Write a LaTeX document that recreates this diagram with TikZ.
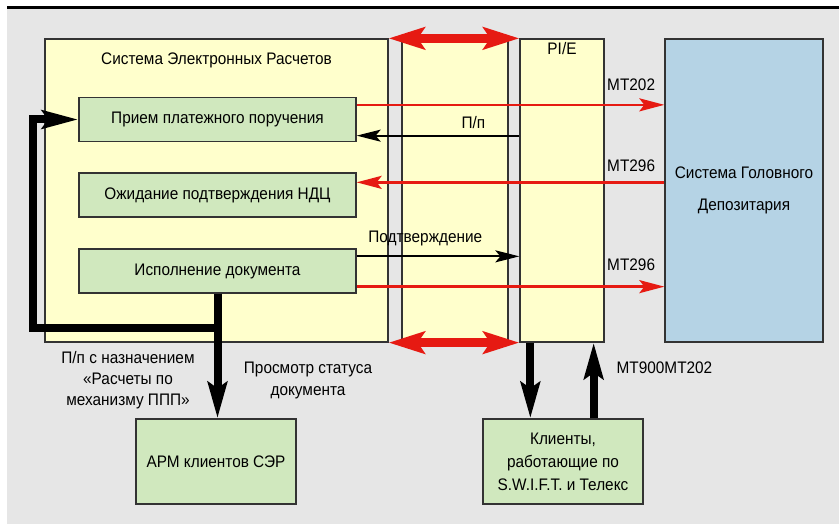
\documentclass[tikz,border=0pt]{standalone}
\usepackage{fontspec}
\setmainfont{Liberation Sans}[FakeStretch=0.92]
\usetikzlibrary{arrows.meta,positioning,calc}
\definecolor{bgGray}{RGB}{230,230,230}
\definecolor{colY}{RGB}{255,255,204}
\definecolor{colG}{RGB}{208,232,190}
\definecolor{colB}{RGB}{181,211,229}
\definecolor{colR}{RGB}{230,26,18}

\begin{document}
\begin{tikzpicture}[
  x=1pt,y=-1pt,
  every node/.style={font=\fontsize{16.7}{19}\selectfont,inner sep=0pt,text=black},
  bx/.style={draw=black!80,line width=1.3pt},
  col/.style={bx,fill=colY,minimum height=303pt},
  proc/.style={bx,fill=colG,minimum width=277pt,minimum height=44pt},
  client/.style={bx,fill=colG,minimum width=160pt,minimum height=85pt,align=center},
  msg/.style={colR,line width=2.6pt,-{Stealth[length=25pt,width=13pt,inset=5pt]}},
  ack/.style={black,line width=2.2pt,-{Stealth[length=24pt,width=12pt,inset=5pt]}},
  fb/.style={black,line width=8pt,-{Stealth[length=36pt,width=19pt,inset=6pt]}},
  link/.style={colR,line width=9pt,{Stealth[length=36pt,width=22pt,inset=7pt]}-{Stealth[length=36pt,width=22pt,inset=7pt]}}
]
\useasboundingbox (0,0) rectangle (839,524);
\fill[bgGray] (7,9) rectangle (839,524);
\draw[line width=3pt] (7,7.5) -- (839,7.5);

% columns
\node[col,minimum width=343pt] (ser) at (216.5,190.5) {};
\node[col,minimum width=106pt] (gap) at (455,190.5) {};
\node[col,minimum width=84pt] (pie) at (562,190.5) {};
\node[bx,fill=colB,minimum width=158pt,minimum height=303pt,align=center] (dep) at (744,190.5)
  {Система Головного\\[13pt]Депозитария};

\node[below=14pt of ser.north] {Система Электронных Расчетов};
\node[below=4pt of pie.north] {PI/E};

% processes
\node[proc] (prm) at (217.5,119.5) {Прием платежного поручения};
\node[proc] (ozh) at (217.5,195) {Ожидание подтверждения НДЦ};
\node[proc] (isp) at (217.5,271) {Исполнение документа};

% clients
\node[client] (arm) at (216,461.5) {АРМ клиентов СЭР};
\node[client] (cli) at (563,461.5) {Клиенты,\\[4pt]работающие по\\[4pt]S.W.I.F.T. и Телекс};

% messages
\draw[msg] ([yshift=-8pt]prm.north east) coordinate (m1) -- (m1 -| dep.west)
  node[anchor=south east,xshift=-8pt,yshift=13pt] {MT202};
\coordinate (p1) at ([yshift=6.5pt]prm.south east);
\draw[ack] (pie.west |- p1) -- (p1)
  node[pos=0,anchor=south east,xshift=-33pt,yshift=6pt] {П/п};
\coordinate (m2) at ([yshift=-10pt]ozh.north east);
\draw[msg] (m2 -| dep.west) -- (m2)
  node[pos=0,anchor=south east,xshift=-8pt,yshift=9pt] {MT296};
\draw[ack] ([yshift=-8pt]isp.north east) coordinate (c1) -- (c1 -| pie.west)
  node[anchor=south west,xshift=-152pt,yshift=9pt] {Подтверждение};
\draw[msg] ([yshift=7pt]isp.south east) coordinate (m3) -- (m3 -| dep.west)
  node[anchor=south east,xshift=-8pt,yshift=15pt] {MT296};

% links between columns
\draw[link] (ser.north east) -- (pie.north west);
\draw[link] (ser.south east) -- (pie.south west);

% feedback loop
\coordinate (lp) at (33,328);
\draw[fb,-{Stealth[length=36pt,width=18pt,inset=6pt]}] (isp.south) |- (lp) |- (prm.west);
\draw[fb] (isp.south) -- (isp.south |- arm.north);

% PI/E and clients
\draw[fb] ([xshift=11pt]pie.south west) coordinate (d1) -- (d1 |- cli.north);
\coordinate (u1) at ([xshift=-11pt]pie.south east);
\draw[fb] (u1 |- cli.north) -- (u1)
  node[pos=0.675,right=19pt] {MT900MT202};

\node[align=center] (lbl1) at (128,380) {П/п с назначением\\[2pt]«Расчеты по\\[2pt]механизму ППП»};
\node[align=center] (lbl2) at (308,380) {Просмотр статуса\\[3pt]документа};
\end{tikzpicture}
\end{document}
